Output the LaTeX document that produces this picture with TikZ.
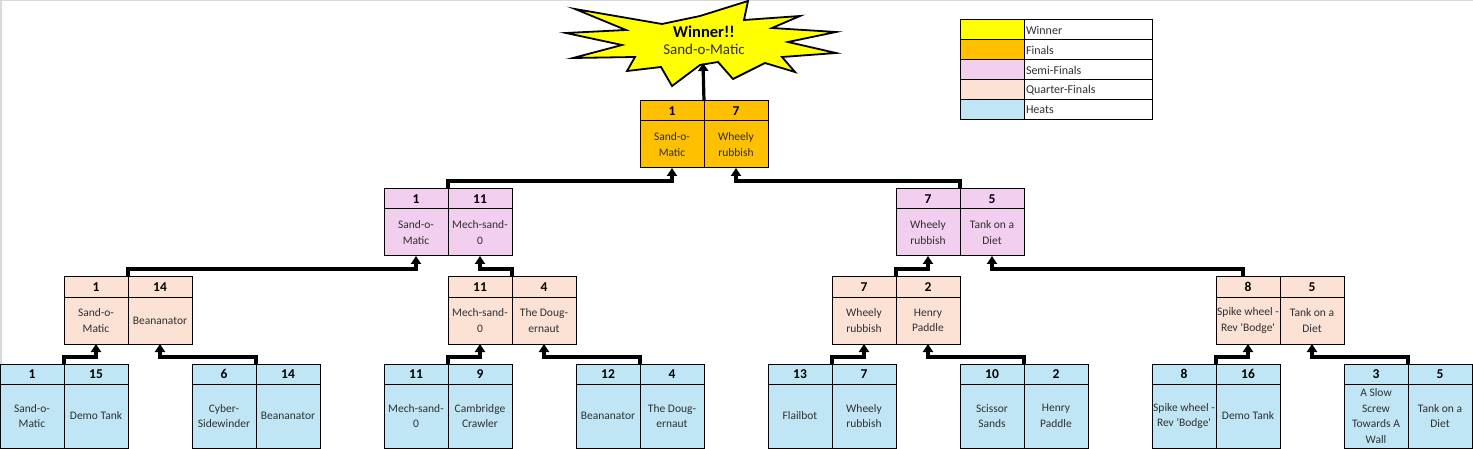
\documentclass[tikz,border=0pt]{standalone}
\usepackage{fontspec}
\setmainfont{Carlito}
\usepackage{tikz}
\usetikzlibrary{arrows.meta, positioning}

\definecolor{winyellow}{HTML}{FFFF00}
\definecolor{finorange}{HTML}{FFC000}
\definecolor{semipink}{HTML}{F2CEEF}
\definecolor{quarterpeach}{HTML}{FBE2D5}
\definecolor{heatblue}{HTML}{C0E6F5}
\definecolor{teamgray}{HTML}{303030}

\tikzset{
	box/.style={shape=rectangle, draw, line width=1pt, anchor=north west, minimum width=64pt, inner sep=0pt, outer sep=0pt, align=center},
	seed/.style={box, minimum height=20pt, font=\fontsize{13.5}{15}\selectfont\bfseries},
	team/.style={box, minimum height=47pt, text=teamgray, font=\fontsize{11.5}{15.5}\selectfont},
	heatteam/.style={team, minimum height=64pt},
	heat/.style={fill=heatblue},
	quarter/.style={fill=quarterpeach},
	semi/.style={fill=semipink},
	final/.style={fill=finorange},
	wire/.style={line width=3.2pt, -{Triangle[length=8pt, width=10pt]}},
	key/.style={shape=rectangle, draw, line width=1pt, anchor=north west, minimum width=64pt, minimum height=20pt, outer sep=0pt},
	keytext/.style={key, minimum width=128pt, text width=124pt, inner sep=2pt, align=left, text=teamgray, font=\fontsize{12}{14}\selectfont}
}

\begin{document}
\begin{tikzpicture}[x=1pt, y=-1pt]
	\useasboundingbox (0,0) rectangle (1473,449);
	\draw[black!15, line width=1.5pt] (0.75,449) -- (0.75,0.75) -- (1473,0.75);

	% Winner burst:
	\draw[fill=winyellow, line width=1.8pt, line join=miter] (566,33) -- (626,30) -- (575,9) -- (662,24) -- (700,16) -- (748,1) -- (744,20) -- (800,16) -- (772,28) -- (836,32) -- (788,42) -- (836,53) -- (782,57) -- (795,72) -- (765,63) -- (733,79) -- (718,62) -- (700,65) -- (672,86) -- (661,67) -- (627,71) -- (635,57) -- (573,58) -- (622,45) -- cycle;
	\node[align=center, font=\fontsize{15}{17}\selectfont, text=teamgray] (win) at (704,40) {\textcolor{black}{\fontsize{16.5}{17}\selectfont\bfseries Winner!!}\\Sand-o-Matic};
	\coordinate (winbot) at (703,63);

	% Legend:
	\node[key, fill=winyellow] (k1) at (960,20) {};
	\node[keytext, right=0pt of k1] (k1t) {Winner};
	\node[key, fill=finorange, below=0pt of k1] (k2) {};
	\node[keytext, right=0pt of k2] (k2t) {Finals};
	\node[key, fill=semipink, below=0pt of k2] (k3) {};
	\node[keytext, right=0pt of k3] (k3t) {Semi-Finals};
	\node[key, fill=quarterpeach, below=0pt of k3] (k4) {};
	\node[keytext, right=0pt of k4] (k4t) {Quarter-Finals};
	\node[key, fill=heatblue, below=0pt of k4] (k5) {};
	\node[keytext, right=0pt of k5] (k5t) {Heats};

	% Final:
	\node[seed, final] (fsl) at (640,101) {1};
	\node[seed, final, right=0pt of fsl] (fsr) {7};
	\node[team, final, below=0pt of fsl] (fl) {Sand-o-\\Matic};
	\node[team, final, below=0pt of fsr] (fr) {Wheely\\rubbish};

	% Semi-finals:
	\node[seed, semi] (s1sl) at (384,189) {1};
	\node[seed, semi, right=0pt of s1sl] (s1sr) {11};
	\node[team, semi, below=0pt of s1sl] (s1l) {Sand-o-\\Matic};
	\node[team, semi, below=0pt of s1sr] (s1r) {Mech-sand-\\0};
	\node[seed, semi] (s2sl) at (896,189) {7};
	\node[seed, semi, right=0pt of s2sl] (s2sr) {5};
	\node[team, semi, below=0pt of s2sl] (s2l) {Wheely\\rubbish};
	\node[team, semi, below=0pt of s2sr] (s2r) {Tank on a\\Diet};

	% Quarter-finals:
	\node[seed, quarter] (q1sl) at (64,277) {1};
	\node[seed, quarter, right=0pt of q1sl] (q1sr) {14};
	\node[team, quarter, below=0pt of q1sl] (q1l) {Sand-o-\\Matic};
	\node[team, quarter, below=0pt of q1sr] (q1r) {Beananator};
	\node[seed, quarter] (q2sl) at (448,277) {11};
	\node[seed, quarter, right=0pt of q2sl] (q2sr) {4};
	\node[team, quarter, below=0pt of q2sl] (q2l) {Mech-sand-\\0};
	\node[team, quarter, below=0pt of q2sr] (q2r) {The Doug-\\ernaut};
	\node[seed, quarter] (q3sl) at (832,277) {7};
	\node[seed, quarter, right=0pt of q3sl] (q3sr) {2};
	\node[team, quarter, below=0pt of q3sl] (q3l) {Wheely\\rubbish};
	\node[team, quarter, below=0pt of q3sr] (q3r) {Henry\\Paddle};
	\node[seed, quarter] (q4sl) at (1216,277) {8};
	\node[seed, quarter, right=0pt of q4sl] (q4sr) {5};
	\node[team, quarter, below=0pt of q4sl] (q4l) {Spike wheel -\\Rev \textquotesingle Bodge\textquotesingle};
	\node[team, quarter, below=0pt of q4sr] (q4r) {Tank on a\\Diet};

	% Heats:
	\node[seed, heat] (h1sl) at (0,364) {1};
	\node[seed, heat, right=0pt of h1sl] (h1sr) {15};
	\node[heatteam, heat, below=0pt of h1sl] (h1l) {Sand-o-\\Matic};
	\node[heatteam, heat, below=0pt of h1sr] (h1r) {Demo Tank};
	\node[seed, heat] (h2sl) at (192,364) {6};
	\node[seed, heat, right=0pt of h2sl] (h2sr) {14};
	\node[heatteam, heat, below=0pt of h2sl] (h2l) {Cyber-\\Sidewinder};
	\node[heatteam, heat, below=0pt of h2sr] (h2r) {Beananator};
	\node[seed, heat] (h3sl) at (384,364) {11};
	\node[seed, heat, right=0pt of h3sl] (h3sr) {9};
	\node[heatteam, heat, below=0pt of h3sl] (h3l) {Mech-sand-\\0};
	\node[heatteam, heat, below=0pt of h3sr] (h3r) {Cambridge\\Crawler};
	\node[seed, heat] (h4sl) at (576,364) {12};
	\node[seed, heat, right=0pt of h4sl] (h4sr) {4};
	\node[heatteam, heat, below=0pt of h4sl] (h4l) {Beananator};
	\node[heatteam, heat, below=0pt of h4sr] (h4r) {The Doug-\\ernaut};
	\node[seed, heat] (h5sl) at (768,364) {13};
	\node[seed, heat, right=0pt of h5sl] (h5sr) {7};
	\node[heatteam, heat, below=0pt of h5sl] (h5l) {Flailbot};
	\node[heatteam, heat, below=0pt of h5sr] (h5r) {Wheely\\rubbish};
	\node[seed, heat] (h6sl) at (960,364) {10};
	\node[seed, heat, right=0pt of h6sl] (h6sr) {2};
	\node[heatteam, heat, below=0pt of h6sl] (h6l) {Scissor\\Sands};
	\node[heatteam, heat, below=0pt of h6sr] (h6r) {Henry\\Paddle};
	\node[seed, heat] (h7sl) at (1152,364) {8};
	\node[seed, heat, right=0pt of h7sl] (h7sr) {16};
	\node[heatteam, heat, below=0pt of h7sl] (h7l) {Spike wheel -\\Rev \textquotesingle Bodge\textquotesingle};
	\node[heatteam, heat, below=0pt of h7sr] (h7r) {Demo Tank};
	\node[seed, heat] (h8sl) at (1344,364) {3};
	\node[seed, heat, right=0pt of h8sl] (h8sr) {5};
	\node[heatteam, heat, below=0pt of h8sl] (h8l) {A Slow\\Screw\\Towards A\\Wall};
	\node[heatteam, heat, below=0pt of h8sr] (h8r) {Tank on a\\Diet};

	% Winners going up:
	\draw[wire] (h1sl.north east) -- ++(0,-7) -| (q1l.south);
	\draw[wire] (h2sl.north east) -- ++(0,-7) -| (q1r.south);
	\draw[wire] (h3sl.north east) -- ++(0,-7) -| (q2l.south);
	\draw[wire] (h4sl.north east) -- ++(0,-7) -| (q2r.south);
	\draw[wire] (h5sl.north east) -- ++(0,-7) -| (q3l.south);
	\draw[wire] (h6sl.north east) -- ++(0,-7) -| (q3r.south);
	\draw[wire] (h7sl.north east) -- ++(0,-7) -| (q4l.south);
	\draw[wire] (h8sl.north east) -- ++(0,-7) -| (q4r.south);
	\draw[wire] (q1sl.north east) -- ++(0,-8) -| (s1l.south);
	\draw[wire] (q2sl.north east) -- ++(0,-8) -| (s1r.south);
	\draw[wire] (q3sl.north east) -- ++(0,-8) -| (s2l.south);
	\draw[wire] ([xshift=-5pt]q4sl.north) -- ++(0,-8) -| (s2r.south);
	\draw[wire] (s1sl.north east) -- ++(0,-8) -| (fl.south);
	\draw[wire] (s2sl.north east) -- ++(0,-8) -| (fr.south);
	\draw[wire] (fsl.north east) -- (winbot);
\end{tikzpicture}
\end{document}
